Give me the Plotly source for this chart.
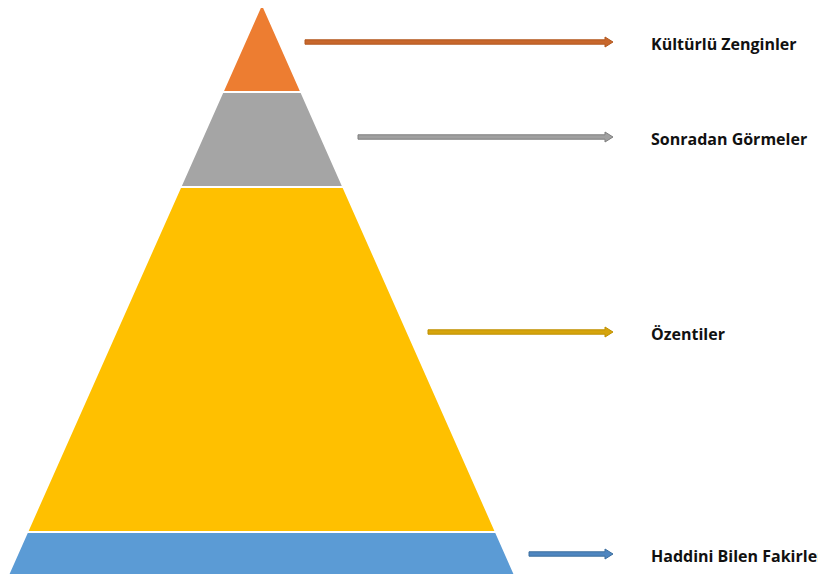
import plotly.graph_objects as go

# ---- data ----
layer_names = ["Kültürlü Zenginler", "Sonradan Görmeler", "Özentiler", "Haddini Bilen Fakirler"]
layer_heights = [89, 95, 345, 43]          # relative band heights, top to bottom
layer_colors = ["#ED7D31", "#A5A5A5", "#FFC000", "#5B9BD5"]
arrow_fill = ["#C8672C", "#A0A0A0", "#D6A40C", "#4F86C0"]
arrow_edge = ["#B2581F", "#7F7F7F", "#BF9000", "#3C6E9E"]
arrow_start = [305, 358, 428, 529]          # arrow tail x (layout)
arrow_y = [42, 137, 332, 554]               # arrow / label y (layout)

# ---- layout geometry (pixel-like axis units) ----
W, H = 826, 581
OFF = 8   # page body margin
apex_x, apex_y = 262, 3
base_left, base_right = 8, 515
arrow_end = 613
label_x = 649

total = sum(layer_heights)
base_y = apex_y + total

def edge(y):
    t = (y - apex_y) / (base_y - apex_y)
    return apex_x + (base_left - apex_x) * t, apex_x + (base_right - apex_x) * t

fig = go.Figure()
y0 = apex_y
for name, h, c in zip(layer_names, layer_heights, layer_colors):
    y1 = y0 + h
    l0, r0 = edge(y0)
    l1, r1 = edge(y1)
    fig.add_trace(go.Scatter(
        x=[l0, r0, r1, l1, l0], y=[y0, y0, y1, y1, y0],
        fill="toself", fillcolor=c, mode="lines",
        line=dict(color="white", width=2), hoverinfo="skip", name=name,
        showlegend=False))
    y0 = y1

shapes = []
annotations = []
for name, xs, ya, fc, ec in zip(layer_names, arrow_start, arrow_y, arrow_fill, arrow_edge):
    sh = 2.2   # half shaft thickness
    hh = 5     # half head height
    hl = 8     # head length
    hx = arrow_end - hl
    path = (f"M {xs},{ya-sh} L {hx},{ya-sh} L {hx},{ya-hh} L {arrow_end},{ya} "
            f"L {hx},{ya+hh} L {hx},{ya+sh} L {xs},{ya+sh} Z")
    shapes.append(dict(type="path", path=path, xref="x", yref="y",
                       fillcolor=fc, line=dict(color=ec, width=1)))
    annotations.append(dict(x=label_x, y=ya + 1.5, xref="x", yref="y", text=f"<b>{name}</b>",
                            showarrow=False, xanchor="left", yanchor="middle",
                            font=dict(family="Open Sans", size=16, color="#111111")))

fig.update_layout(
    width=W, height=H, margin=dict(l=0, r=0, t=0, b=0),
    paper_bgcolor="white", plot_bgcolor="white",
    xaxis=dict(range=[OFF, W + OFF], visible=False, fixedrange=True),
    yaxis=dict(range=[H + OFF, OFF], visible=False, fixedrange=True),
    shapes=shapes, annotations=annotations, showlegend=False,
)
fig.write_html("out.html")
